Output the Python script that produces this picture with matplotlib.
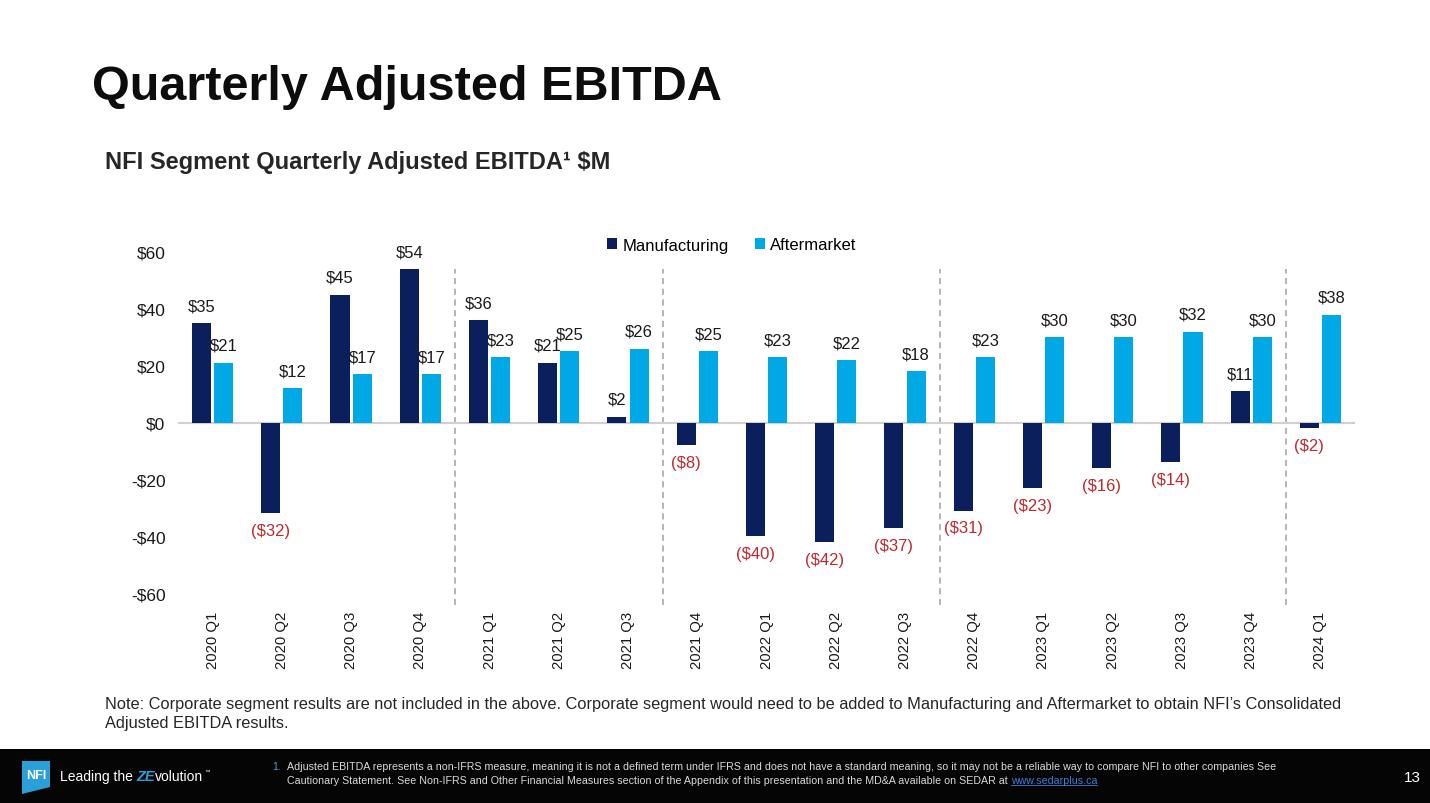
import matplotlib.pyplot as plt
import matplotlib.patches as mpatches
import numpy as np

plt.rcParams["font.family"] = ["Liberation Sans", "DejaVu Sans"]

NAVY = "#0b1f5c"
CYAN = "#00a9e6"
RED = "#c0282d"
TXT = "#1a1a1a"

QUARTERS = ["2020 Q1", "2020 Q2", "2020 Q3", "2020 Q4",
            "2021 Q1", "2021 Q2", "2021 Q3", "2021 Q4",
            "2022 Q1", "2022 Q2", "2022 Q3", "2022 Q4",
            "2023 Q1", "2023 Q2", "2023 Q3", "2023 Q4", "2024 Q1"]
MANUFACTURING = [35, -32, 45, 54, 36, 21, 2, -8, -40, -42, -37, -31, -23, -16, -14, 11, -2]
AFTERMARKET = [21, 12, 17, 17, 23, 25, 26, 25, 23, 22, 18, 23, 30, 30, 32, 30, 38]
YTICKS = [-60, -40, -20, 0, 20, 40, 60]
SEPARATORS = [3.5, 6.5, 10.5, 15.5]


def money(v):
    return f"${v}" if v >= 0 else f"(${-v})"


fig = plt.figure(figsize=(14.3, 8.04), dpi=100)
fig.patch.set_facecolor("white")

# slide title + subtitle
fig.text(92 / 1430, 1 - 88 / 804, "Quarterly Adjusted EBITDA", fontsize=35,
         fontweight="bold", color="#0d0d0d", va="center", ha="left")
fig.text(105 / 1430, 1 - 162 / 804, "NFI Segment Quarterly Adjusted EBITDA\u00b9 $M",
         fontsize=17, fontweight="bold", color="#262626", va="center", ha="left")

ax = fig.add_axes([178 / 1430, (804 - 594) / 804, (1355 - 178) / 1430, 341 / 804])
x = np.arange(len(QUARTERS))
w = 0.275
off = 0.16
b1 = ax.bar(x - off, MANUFACTURING, w, color=NAVY, label="Manufacturing", zorder=3)
b2 = ax.bar(x + off, AFTERMARKET, w, color=CYAN, label="Aftermarket", zorder=3)

for bars, vals in ((b1, MANUFACTURING), (b2, AFTERMARKET)):
    for rect, v in zip(bars, vals):
        cx = rect.get_x() + rect.get_width() / 2
        ax.annotate(money(v), (cx, v), xytext=(0, 12.5 if v >= 0 else -12.5),
                    textcoords="offset points", ha="center", va="center",
                    fontsize=12, color=TXT if v >= 0 else RED, zorder=4)

ax.axhline(0, color="#d0d0d0", lw=1.5, zorder=2)
for sx in SEPARATORS:
    ax.plot([sx, sx], [-0.035, 0.95], transform=ax.get_xaxis_transform(),
            color="#a0a0a0", lw=1.1, ls=(0, (4, 3)), clip_on=False, zorder=1)

ax.set_xlim(-0.5, len(QUARTERS) - 0.5)
ax.set_ylim(-60, 60)
ax.set_yticks(YTICKS)
ax.set_yticklabels([f"${v}" if v >= 0 else f"-${-v}" for v in YTICKS],
                   fontsize=12.5, color=TXT)
ax.set_xticks(x)
ax.set_xticklabels(QUARTERS, rotation=90, fontsize=10.7, color=TXT)
ax.tick_params(axis="y", length=0, pad=9)
ax.tick_params(axis="x", length=0, pad=13)
for s in ax.spines.values():
    s.set_visible(False)

fig.legend(handles=[b1, b2], loc="center", bbox_to_anchor=(732 / 1430, 1 - 246 / 804),
           ncol=2, frameon=False, fontsize=12, handlelength=0.6, handleheight=0.6,
           handletextpad=0.3, columnspacing=1.6)

# note
fig.text(105 / 1430, 1 - 705 / 804,
         "Note: Corporate segment results are not included in the above. Corporate segment "
         "would need to be added to Manufacturing and Aftermarket to obtain NFI\u2019s Consolidated",
         fontsize=11.8, color="#262626", va="center", ha="left")
fig.text(105 / 1430, 1 - 724 / 804, "Adjusted EBITDA results.",
         fontsize=11.8, color="#262626", va="center", ha="left")

# footer band
fig.patches.append(mpatches.Rectangle((0, 0), 1, 54 / 804, transform=fig.transFigure,
                                      facecolor="#050505", edgecolor="none", zorder=0))
logo = mpatches.Polygon([(22 / 1430, 1 - 762 / 804), (50 / 1430, 1 - 762 / 804),
                         (50 / 1430, 1 - 788 / 804), (22 / 1430, 1 - 795 / 804)],
                        closed=True, transform=fig.transFigure, facecolor="#2a9fd8",
                        edgecolor="none", zorder=1)
fig.patches.append(logo)
fig.text(36 / 1430, 1 - 776 / 804, "NFI", fontsize=9, fontweight="bold", color="white",
         ha="center", va="center", fontstretch="condensed")
t1 = fig.text(60 / 1430, 1 - 777 / 804, "Leading the ", fontsize=10, color="white",
              ha="left", va="center")
fig.canvas.draw()
r = fig.canvas.get_renderer()
bb = t1.get_window_extent(r)
t2 = fig.text(bb.x1 / 1430, 1 - 777 / 804, "ZE", fontsize=10.5, color="#2a9fd8",
              fontweight="bold", style="italic", ha="left", va="center")
bb2 = t2.get_window_extent(r)
t3 = fig.text(bb2.x1 / 1430, 1 - 777 / 804, "volution", fontsize=10, color="white",
              ha="left", va="center")
bb3 = t3.get_window_extent(r)
fig.text(bb3.x1 / 1430 + 0.001, 1 - 772 / 804, "\u2122", fontsize=4, color="white",
         ha="left", va="center")

fig.text(272 / 1430, 1 - 767 / 804, "1.", fontsize=7.5, color="#4a9fd8", ha="left", va="center")
fig.text(287 / 1430, 1 - 767 / 804,
         "Adjusted EBITDA represents a non-IFRS measure, meaning it is not a defined term under IFRS "
         "and does not have a standard meaning, so it may not be a reliable way to compare NFI to "
         "other companies See", fontsize=7.7, color="#d9d9d9", ha="left", va="center")
f2 = fig.text(287 / 1430, 1 - 781 / 804,
              "Cautionary Statement. See Non-IFRS and Other Financial Measures section of the "
              "Appendix of this presentation and the MD&A available on SEDAR at ",
              fontsize=7.7, color="#d9d9d9", ha="left", va="center")
bbf = f2.get_window_extent(r)
lk = fig.text(bbf.x1 / 1430, 1 - 781 / 804, "www.sedarplus.ca", fontsize=7.7,
              color="#3b7dd8", ha="left", va="center")
bbl = lk.get_window_extent(r)
fig.lines.append(plt.Line2D([bbl.x0 / 1430, bbl.x1 / 1430],
                            [(bbl.y0 + 0.5) / 804, (bbl.y0 + 0.5) / 804],
                            transform=fig.transFigure, color="#3b7dd8", lw=0.6))
fig.text(1412 / 1430, 1 - 778 / 804, "13", fontsize=11, color="white",
         ha="center", va="center")

fig.savefig("out.png", dpi=100, facecolor="white")
